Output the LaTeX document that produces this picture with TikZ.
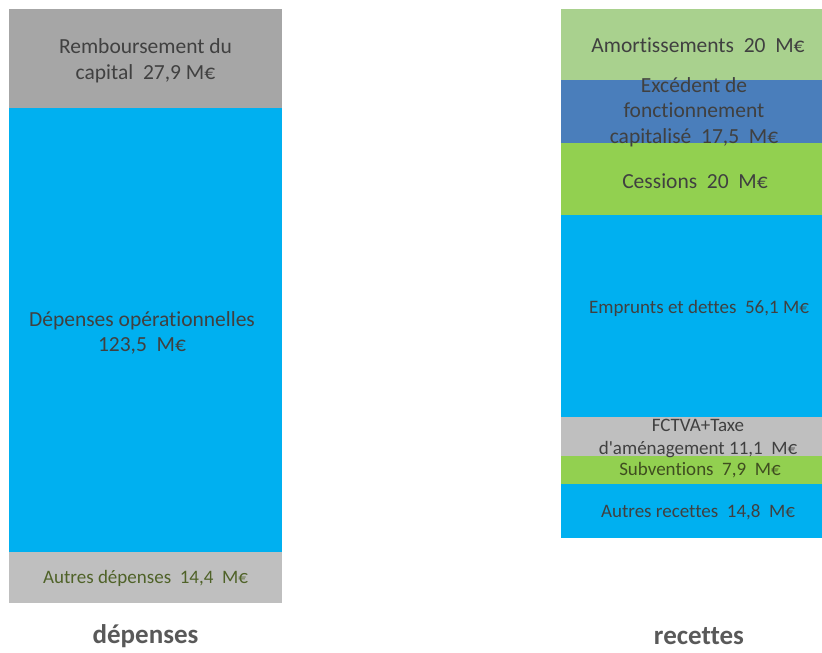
\documentclass[tikz,border=0pt]{standalone}
\usepackage{fontspec}
\newfontfamily\calibfont[Ligatures=NoCommon]{Carlito}
\usepackage{xcolor}
\definecolor{capgray}{RGB}{166,166,166}
\definecolor{opblue}{RGB}{0,176,240}
\definecolor{palegray}{RGB}{191,191,191}
\definecolor{amortgreen}{RGB}{169,209,142}
\definecolor{steelblue}{RGB}{74,126,187}
\definecolor{cessgreen}{RGB}{146,208,80}
\definecolor{txtgray}{RGB}{64,64,64}
\definecolor{txtgreen}{RGB}{79,98,40}
\definecolor{axisgray}{RGB}{89,89,89}
\usetikzlibrary{positioning}
\tikzset{
  lbl/.style={align=center,text=txtgray,inner sep=0pt,
              font=\calibfont\fontsize{21.5}{25.5}\selectfont},
  lblsmall/.style={lbl,font=\calibfont\fontsize{19}{23}\selectfont},
  axislbl/.style={text=axisgray,font=\calibfont\fontsize{27}{30}\selectfont\bfseries},
}

\begin{document}
\begin{tikzpicture}[x=1pt,y=-1pt]
        \useasboundingbox (0,0) rectangle (822,653);
        % depenses
        \fill[capgray] (9,9) rectangle (282,108);
        \fill[opblue] (9,108) rectangle (282,552);
        \fill[palegray] (9,552) rectangle (282,603);
        \node[lbl] (rembt) at (145.5,61) {Remboursement du\\capital\ \ 27,9 M€};
        \node[lbl] (depop) at (142,333) {Dépenses opérationnelles\\123,5\ \ M€};
        \node[lblsmall,text=txtgreen] (autdep) at (145.5,578) {Autres dépenses\ \ 14,4\ \ M€};
        % recettes
        \fill[amortgreen] (561,9) rectangle (822,80);
        \fill[steelblue] (561,80) rectangle (822,143);
        \fill[cessgreen] (561,143) rectangle (822,215);
        \fill[opblue] (561,215) rectangle (822,417);
        \fill[palegray] (561,417) rectangle (822,456);
        \fill[cessgreen] (561,456) rectangle (822,484);
        \fill[opblue] (561,484) rectangle (822,538);
        \node[lbl] (amort) at (698,45) {Amortissements\ \ 20\ \ M€};
        \node[lbl] (excfonc) at (694,112) {Excédent de\\fonctionnement\\capitalisé\ \ 17,5\ \ M€};
        \node[lbl] (cess) at (695,181) {Cessions\ \ 20\ \ M€};
        \node[lblsmall] (emprunt) at (699,308) {Emprunts et dettes\ \ 56,1 M€};
        \node[lblsmall] (fctva) at (698,438) {FCTVA+Taxe\\d'aménagement\ 11,1\ \ M€};
        \node[lblsmall,text=txtgreen!80!black] (subv) at (700,470) {Subventions\ \ 7,9\ \ M€};
        \node[lblsmall] (autrec) at (698,512) {Autres recettes\ \ 14,8\ \ M€};
        % axe
        \node[axislbl] (depenses) at (145.5,636) {dépenses};
        \node[axislbl] (recettes) at (699,636) {recettes};
      \end{tikzpicture}
\end{document}
